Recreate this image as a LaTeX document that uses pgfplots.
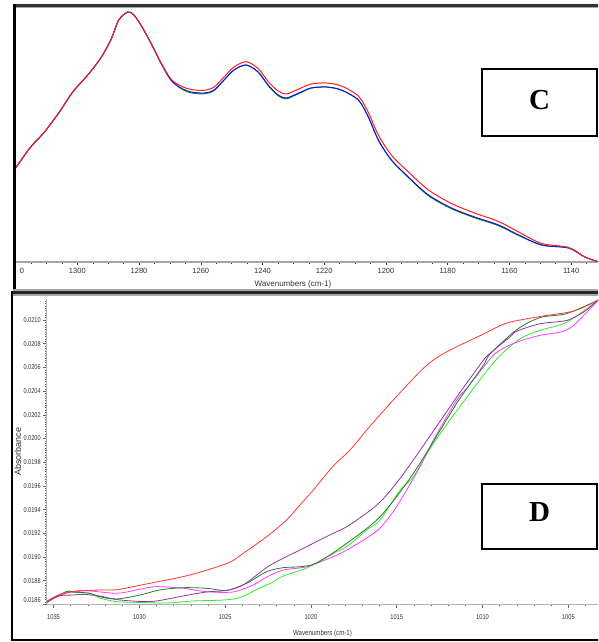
\documentclass[border=0pt]{standalone}
\usepackage{fontspec}
\setmainfont{Liberation Sans}
\newfontfamily\serifb{Liberation Serif}
\usepackage{pgfplots}
\pgfplotsset{compat=1.18}
\definecolor{cRed}{RGB}{255,30,30}
\definecolor{cBlue}{RGB}{20,20,235}
\definecolor{cGreen}{RGB}{0,150,0}
\definecolor{dRed}{RGB}{255,55,55}
\definecolor{dPurple}{RGB}{150,50,165}
\definecolor{dDGreen}{RGB}{40,125,40}
\definecolor{dLGreen}{RGB}{50,235,50}
\definecolor{dMag}{RGB}{255,60,255}
\begin{document}
\begin{tikzpicture}
\useasboundingbox (0,0) rectangle (598pt,642pt);
\clip (0,0) rectangle (598pt,642pt);
\fill[white] (0,0) rectangle (598pt,642pt);

% ---------------- panel C ----------------
\begin{axis}[
  at={(15pt,380pt)}, anchor=south west,
  scale only axis, width=583pt, height=254pt,
  x dir=reverse, xmin=1131.3, xmax=1320.2, ymin=0, ymax=254,
  axis x line=bottom, axis y line=none,
  axis line style={-, draw=black!35, line width=1.2pt},
  tick align=outside,
  major tick length=3pt, minor tick length=2pt,
  every tick/.style={black!80, line width=0.5pt},
  xtick={1140,1160,1180,1200,1220,1240,1260,1280,1300,1320},
  xticklabels={1140,1160,1180,1200,1220,1240,1260,1280,1300,1320},
  minor xtick={1135,1140,...,1320},
  xticklabel style={font=\fontsize{7.5}{9}\selectfont, text=black!80},
  xlabel={Wavenumbers (cm-1)},
  xlabel style={at={(axis description cs:0.4768,-0.0866)}, anchor=center, font=\fontsize{8}{10}\selectfont, text=black!80},
  clip=true,
]
\addplot[cGreen, line width=1pt, smooth] coordinates {
(1320.00,94) (1315.13,115) (1310.91,129) (1306.04,149) (1301.49,170) (1296.62,187)
(1292.40,204) (1289.16,222) (1286.56,242) (1283.64,250) (1281.69,247) (1279.42,237)
(1276.17,219) (1272.92,199) (1269.68,182) (1266.43,173.5) (1263.18,169.2) (1258.96,168.2)
(1255.71,171.3) (1252.47,182) (1249.22,192) (1245.32,197) (1241.43,190) (1238.18,176.5)
(1234.94,166.2) (1232.34,163.2) (1229.74,166.3) (1227.47,169.5) (1224.22,174) (1219.35,175)
(1214.48,172) (1208.96,162) (1205.71,145) (1202.47,122) (1198.25,102) (1192.73,84.5)
(1186.23,66.3) (1178.77,53.3) (1171.30,44.3) (1163.51,36.3) (1157.01,26.5) (1149.55,17)
(1140.78,14) (1135.58,5) (1131.04,0)};
\addplot[cBlue, line width=1pt, smooth] coordinates {
(1320.00,94) (1315.13,115) (1310.91,129) (1306.04,149) (1301.49,170) (1296.62,187)
(1292.40,204) (1289.16,222) (1286.56,242) (1283.64,250) (1281.69,247) (1279.42,237)
(1276.17,219) (1272.92,199) (1269.68,182) (1266.43,174) (1263.18,170) (1258.96,169)
(1255.71,172) (1252.47,182) (1249.22,192) (1245.32,197) (1241.43,190) (1238.18,177)
(1234.94,167) (1232.34,164) (1229.74,167) (1227.47,170) (1224.22,174) (1219.35,175)
(1214.48,172) (1208.96,162) (1205.71,145) (1202.47,122) (1198.25,102) (1192.73,85)
(1186.23,67) (1178.77,54) (1171.30,45) (1163.51,37) (1157.01,27) (1149.55,17)
(1140.78,14) (1135.58,5) (1131.04,0)};
\addplot[cRed, line width=1pt, smooth] coordinates {
(1320.00,94) (1315.13,115) (1310.91,129) (1306.04,149) (1301.49,170) (1296.62,187)
(1292.40,204) (1289.16,222) (1286.56,242) (1283.64,250) (1281.69,247) (1279.42,237)
(1276.17,219) (1272.92,199.5) (1269.68,183) (1266.43,176) (1263.18,172.5) (1258.96,171.7)
(1255.71,175) (1252.47,185) (1249.22,195) (1245.32,200.3) (1241.43,193.5) (1238.18,180.5)
(1234.94,171) (1232.34,168) (1229.74,171) (1227.47,174) (1224.22,178) (1219.35,179)
(1214.48,176) (1208.96,166) (1205.71,149.5) (1202.47,127) (1198.25,107) (1192.73,90)
(1186.23,72) (1178.77,58.5) (1171.30,49) (1163.51,40.5) (1157.01,30) (1149.55,18.5)
(1140.78,14.5) (1135.58,5) (1131.04,0)};
\end{axis}

% ---------------- panel D ----------------
\begin{axis}[
  at={(47pt,37.6pt)}, anchor=south west,
  scale only axis, width=551pt, height=305.1pt,
  x dir=reverse, xmin=1003.27, xmax=1035.38, ymin=0.0186, ymax=0.021175,
  axis x line=bottom, axis y line=left,
  axis line style={-, draw=black!30, line width=1pt},
  tick align=outside,
  major tick length=3.5pt, minor tick length=2pt,
  every tick/.style={black!60, line width=0.5pt},
  scaled y ticks=false,
  xtick={1005,1010,1015,1020,1025,1030,1035},
  xticklabels={1005,1010,1015,1020,1025,1030,1035},
  minor xtick={1004,1005,...,1035},
  ytick={0.0188,0.0190,0.0192,0.0194,0.0196,0.0198,0.0200,0.0202,0.0204,0.0206,0.0208,0.0210},
  yticklabels={0.0188,0.0190,0.0192,0.0194,0.0196,0.0198,0.0200,0.0202,0.0204,0.0206,0.0208,0.0210},
  extra y ticks={0.0186},
  extra y tick labels={0.0186},
  extra y tick style={yticklabel style={yshift=4.5pt}},
  minor ytick={0.01862,0.01864,...,0.02117},
  xticklabel style={font=\fontsize{7}{8}\selectfont, text=black!80, xscale=0.82, yshift=-3pt},
  yticklabel style={font=\fontsize{7}{8}\selectfont, text=black!80, xscale=0.8},
  xlabel={\fontsize{7.5}{9}\selectfont\scalebox{0.82}[1]{Wavenumbers (cm-1)}},
  xlabel style={at={(axis description cs:0.5,-0.0947)}, anchor=center, text=black!80},
  ylabel={Absorbance},
  ylabel style={at={(axis description cs:-0.053,0.5)}, anchor=center, font=\fontsize{9}{10}\selectfont, text=black!80},
  clip=true,
]
\addplot[dLGreen, line width=0.8pt, smooth] coordinates {
(1035.42,0.018612) (1034.25,0.018709) (1033.87,0.018702) (1032.89,0.018694) (1032.31,0.018654)
(1031.33,0.018623) (1030.36,0.018618) (1028.42,0.018612) (1026.86,0.018629) (1025.11,0.018637)
(1024.14,0.018658) (1022.97,0.018739) (1022.20,0.018789) (1021.61,0.018840) (1020.25,0.018907)
(1018.70,0.019031) (1017.91,0.019087) (1016.75,0.019228) (1015.97,0.019312) (1014.80,0.019565)
(1014.03,0.019678) (1012.86,0.019959) (1010.91,0.020350) (1009.16,0.020673) (1007.80,0.020842)
(1006.64,0.020913) (1005.08,0.020983) (1003.25,0.021169)};
\addplot[dMag, line width=0.8pt, smooth] coordinates {
(1035.42,0.018623) (1034.25,0.018694) (1033.28,0.018718) (1031.33,0.018694) (1029.97,0.018728)
(1029.00,0.018750) (1027.45,0.018736) (1026.08,0.018707) (1024.53,0.018705) (1023.36,0.018764)
(1022.58,0.018831) (1021.61,0.018890) (1020.25,0.018918) (1018.70,0.019003) (1017.91,0.019059)
(1016.75,0.019160) (1015.97,0.019245) (1015.39,0.019346) (1014.80,0.019473) (1013.64,0.019762)
(1012.86,0.019987) (1011.50,0.020325) (1010.91,0.020426) (1009.55,0.020673) (1008.97,0.020747)
(1007.99,0.020814) (1006.64,0.020871) (1005.47,0.020899) (1004.69,0.020955) (1003.25,0.021169)};
\addplot[dDGreen, line width=0.8pt, smooth] coordinates {
(1035.42,0.018623) (1034.25,0.018707) (1033.87,0.018705) (1032.89,0.018694) (1032.31,0.018665)
(1031.33,0.018646) (1029.97,0.018679) (1028.81,0.018722) (1027.45,0.018741) (1026.08,0.018736)
(1024.92,0.018718) (1023.75,0.018778) (1022.58,0.018876) (1021.61,0.018910) (1020.64,0.018918)
(1019.67,0.018949) (1017.91,0.019116) (1015.97,0.019340) (1014.03,0.019706) (1011.89,0.020207)
(1011.30,0.020342) (1009.94,0.020620) (1009.55,0.020715) (1007.99,0.020920) (1006.64,0.021021)
(1005.08,0.021055) (1003.25,0.021169)};
\addplot[dPurple, line width=0.8pt, smooth] coordinates {
(1035.42,0.018612) (1034.74,0.018671) (1033.87,0.018679) (1033.28,0.018685) (1032.31,0.018671)
(1031.33,0.018641) (1029.97,0.018625) (1029.00,0.018629) (1027.45,0.018671) (1026.08,0.018705)
(1024.92,0.018718) (1023.95,0.018764) (1022.58,0.018911) (1021.81,0.018975) (1020.64,0.019059)
(1019.86,0.019116) (1018.70,0.019200) (1017.91,0.019256) (1016.75,0.019371) (1015.97,0.019464)
(1015.10,0.019608) (1014.03,0.019819) (1011.89,0.020268) (1011.30,0.020392) (1009.94,0.020662)
(1009.55,0.020720) (1008.38,0.020859) (1007.99,0.020907) (1006.64,0.020969) (1005.08,0.020997)
(1004.11,0.021068) (1003.25,0.021169)};
\addplot[dRed, line width=0.8pt, smooth] coordinates {
(1035.42,0.018623) (1034.74,0.018679) (1033.87,0.018707) (1032.31,0.018722) (1031.33,0.018724)
(1029.39,0.018778) (1027.06,0.018848) (1024.84,0.018949) (1023.95,0.019031) (1022.58,0.019171)
(1021.42,0.019312) (1020.64,0.019439) (1019.86,0.019565) (1018.70,0.019768) (1017.72,0.019903)
(1016.75,0.020072) (1015.20,0.020325) (1013.45,0.020592) (1012.47,0.020700) (1011.30,0.020789)
(1009.94,0.020882) (1008.58,0.020975) (1006.64,0.021030) (1004.69,0.021076) (1003.25,0.021169)};
\end{axis}

% cover outside the panel frames
\fill[white] (0,352pt) rectangle (13.3pt,642pt);
\fill[white] (0,364pt) rectangle (19.3pt,377pt);
\fill[white] (0,638pt) rectangle (598pt,642pt);

% frames
\fill[black!80] (13.3pt,638pt) rectangle (600pt,635.3pt);
\fill[black!35] (15.8pt,635.3pt) rectangle (600pt,633.6pt);
\fill[black] (13.3pt,638pt) rectangle (15.8pt,351pt);
\fill[black!35] (13.3pt,352.7pt) rectangle (600pt,351.3pt);
\fill[black!85] (11pt,351.3pt) rectangle (600pt,348pt);
\fill[black!35] (13.3pt,348pt) rectangle (600pt,346.2pt);
\fill[black] (11pt,351.3pt) rectangle (13.3pt,0.6pt);
\fill[black] (11pt,3pt) rectangle (600pt,0.6pt);

% label boxes
\draw[line width=1.8pt, fill=white] (481.7pt,573pt) rectangle (596.8pt,506pt);
\node at (539.5pt,542.3pt) {\serifb\bfseries\fontsize{29}{30}\selectfont C};
\draw[line width=1.8pt, fill=white] (481.7pt,158pt) rectangle (596.8pt,92.7pt);
\node at (539.5pt,129.5pt) {\serifb\bfseries\fontsize{29}{30}\selectfont D};
\end{tikzpicture}
\end{document}
